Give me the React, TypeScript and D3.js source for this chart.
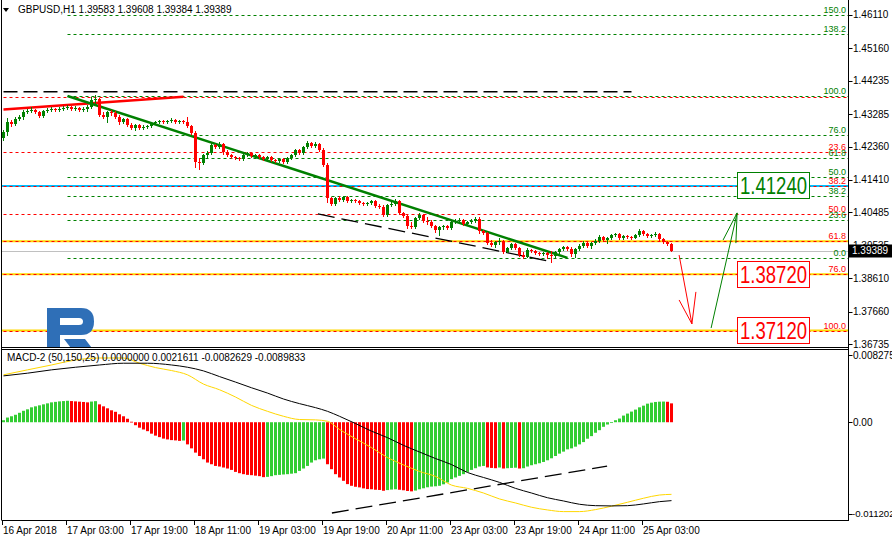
import React from 'react';
import * as d3 from 'd3';

const FONT = "'Liberation Sans', Arial, Helvetica, sans-serif";
const GREEN = '#008000';
const RED = '#ff0000';
const HIST_GREEN = '#32cd32';

// ---------- axis values ----------
const PRICE_MIN = 1.3665;
const PRICE_MAX = 1.4648;
const MACD_MIN = -0.011202;
const MACD_MAX = 0.008275;
const priceTicks = [1.4611, 1.4516, 1.44235, 1.43285, 1.4236, 1.4141, 1.40485, 1.39535, 1.3861, 1.3766, 1.36735];
const timeLabels = ['16 Apr 2018', '17 Apr 03:00', '17 Apr 19:00', '18 Apr 11:00', '19 Apr 03:00', '19 Apr 19:00', '20 Apr 11:00', '23 Apr 03:00', '23 Apr 19:00', '24 Apr 11:00', '25 Apr 03:00'];
const timeLabelBars = [0, 16, 32, 48, 64, 80, 96, 112, 128, 144, 160];

// ---------- GBPUSD H1 candles ----------
const opens = [1.4261,
  1.4278,1.4306,1.4300,1.4315,1.4320,1.4335,1.4338,1.4340,1.4335,1.4323,
  1.4338,1.4340,1.4343,1.4340,1.4343,1.4346,1.4349,1.4343,1.4346,1.4340,
  1.4343,1.4349,1.4369,1.4372,1.4326,1.4320,1.4335,1.4332,1.4320,1.4306,
  1.4315,1.4298,1.4289,1.4298,1.4289,1.4292,1.4295,1.4303,1.4306,1.4309,
  1.4306,1.4309,1.4312,1.4306,1.4309,1.4306,1.4295,1.4275,1.4192,1.4189,
  1.4212,1.4218,1.4241,1.4235,1.4243,1.4221,1.4212,1.4206,1.4204,1.4201,
  1.4212,1.4218,1.4209,1.4212,1.4206,1.4201,1.4206,1.4198,1.4195,1.4201,
  1.4192,1.4204,1.4212,1.4226,1.4218,1.4235,1.4246,1.4238,1.4243,1.4226,
  1.4184,1.4090,1.4072,1.4090,1.4084,1.4092,1.4081,1.4084,1.4081,1.4075,
  1.4072,1.4075,1.4081,1.4067,1.4064,1.4041,1.4070,1.4072,1.4081,1.4047,
  1.4038,1.4010,1.4007,1.4033,1.4041,1.4024,1.4021,1.4010,1.3998,1.4007,
  1.4010,1.4004,1.4021,1.4024,1.4027,1.4015,1.4021,1.4024,1.4030,1.3996,
  1.3990,1.3961,1.3956,1.3964,1.3967,1.3936,1.3947,1.3958,1.3947,1.3927,
  1.3921,1.3941,1.3939,1.3933,1.3930,1.3933,1.3927,1.3924,1.3936,1.3944,
  1.3950,1.3944,1.3930,1.3944,1.3953,1.3961,1.3953,1.3961,1.3967,1.3978,
  1.3970,1.3976,1.3984,1.3987,1.3976,1.3981,1.3978,1.3976,1.3984,1.3996,
  1.3987,1.3981,1.3984,1.3987,1.3973,1.3964,1.39583];
const closes = [
  1.4278,1.4306,1.4300,1.4315,1.4320,1.4335,1.4338,1.4340,1.4335,1.4323,
  1.4338,1.4340,1.4343,1.4340,1.4343,1.4346,1.4349,1.4343,1.4346,1.4340,
  1.4343,1.4349,1.4369,1.4372,1.4326,1.4320,1.4335,1.4332,1.4320,1.4306,
  1.4315,1.4298,1.4289,1.4298,1.4289,1.4292,1.4295,1.4303,1.4306,1.4309,
  1.4306,1.4309,1.4312,1.4306,1.4309,1.4306,1.4295,1.4275,1.4192,1.4189,
  1.4212,1.4218,1.4241,1.4235,1.4243,1.4221,1.4212,1.4206,1.4204,1.4201,
  1.4212,1.4218,1.4209,1.4212,1.4206,1.4201,1.4206,1.4198,1.4195,1.4201,
  1.4192,1.4204,1.4212,1.4226,1.4218,1.4235,1.4246,1.4238,1.4243,1.4226,
  1.4184,1.4090,1.4072,1.4090,1.4084,1.4092,1.4081,1.4084,1.4081,1.4075,
  1.4072,1.4075,1.4081,1.4067,1.4064,1.4041,1.4070,1.4072,1.4081,1.4047,
  1.4038,1.4010,1.4007,1.4033,1.4041,1.4024,1.4021,1.4010,1.3998,1.4007,
  1.4010,1.4004,1.4021,1.4024,1.4027,1.4015,1.4021,1.4024,1.4030,1.3996,
  1.3990,1.3961,1.3956,1.3964,1.3967,1.3936,1.3947,1.3958,1.3947,1.3927,
  1.3921,1.3941,1.3939,1.3933,1.3930,1.3933,1.3927,1.3924,1.3936,1.3944,
  1.3950,1.3944,1.3930,1.3944,1.3953,1.3961,1.3953,1.3961,1.3967,1.3978,
  1.3970,1.3976,1.3984,1.3987,1.3976,1.3981,1.3978,1.3976,1.3984,1.3996,
  1.3987,1.3981,1.3984,1.3987,1.3973,1.3964,1.3958,1.39389];
const highs = [
  1.4283,1.4318,1.4312,1.4320,1.4326,1.4340,1.4343,1.4349,1.4343,1.4338,
  1.4340,1.4346,1.4349,1.4346,1.4349,1.4352,1.4355,1.4352,1.4352,1.4349,
  1.4349,1.4355,1.4377,1.4383,1.4375,1.4335,1.4338,1.4340,1.4338,1.4326,
  1.4318,1.4318,1.4303,1.4300,1.4300,1.4298,1.4298,1.4306,1.4309,1.4312,
  1.4312,1.4312,1.4318,1.4315,1.4312,1.4312,1.4320,1.4298,1.4280,1.4204,
  1.4215,1.4223,1.4246,1.4243,1.4249,1.4246,1.4226,1.4215,1.4209,1.4206,
  1.4215,1.4221,1.4221,1.4215,1.4215,1.4209,1.4209,1.4209,1.4201,1.4204,
  1.4204,1.4206,1.4215,1.4229,1.4229,1.4238,1.4252,1.4249,1.4249,1.4246,
  1.4232,1.4189,1.4092,1.4092,1.4095,1.4095,1.4095,1.4087,1.4087,1.4084,
  1.4078,1.4078,1.4084,1.4084,1.4072,1.4070,1.4072,1.4078,1.4087,1.4084,
  1.4050,1.4041,1.4021,1.4035,1.4047,1.4044,1.4035,1.4027,1.4013,1.4010,
  1.4013,1.4013,1.4024,1.4030,1.4033,1.4030,1.4024,1.4030,1.4035,1.4035,
  1.3998,1.3993,1.3970,1.3967,1.3976,1.3970,1.3950,1.3961,1.3961,1.3950,
  1.3936,1.3947,1.3944,1.3941,1.3936,1.3936,1.3936,1.3939,1.3939,1.3947,
  1.3953,1.3953,1.3950,1.3947,1.3958,1.3967,1.3964,1.3964,1.3973,1.3984,
  1.3981,1.3978,1.3987,1.3990,1.3990,1.3984,1.3984,1.3981,1.3987,1.4001,
  1.3998,1.3990,1.3987,1.3993,1.3990,1.3976,1.3967,1.39608];
const lows = [
  1.4255,1.4269,1.4295,1.4298,1.4312,1.4315,1.4332,1.4335,1.4332,1.4320,
  1.4320,1.4335,1.4338,1.4338,1.4338,1.4340,1.4343,1.4340,1.4340,1.4338,
  1.4338,1.4338,1.4346,1.4360,1.4323,1.4318,1.4306,1.4326,1.4318,1.4300,
  1.4303,1.4295,1.4286,1.4283,1.4286,1.4286,1.4289,1.4292,1.4300,1.4303,
  1.4303,1.4303,1.4306,1.4303,1.4303,1.4303,1.4292,1.4272,1.4178,1.4172,
  1.4186,1.4204,1.4215,1.4232,1.4232,1.4215,1.4209,1.4204,1.4201,1.4198,
  1.4198,1.4209,1.4206,1.4206,1.4204,1.4198,1.4198,1.4195,1.4192,1.4192,
  1.4189,1.4189,1.4201,1.4209,1.4215,1.4215,1.4232,1.4235,1.4235,1.4223,
  1.4181,1.4078,1.4070,1.4070,1.4081,1.4081,1.4078,1.4078,1.4078,1.4072,
  1.4070,1.4070,1.4072,1.4064,1.4061,1.4038,1.4038,1.4067,1.4070,1.4044,
  1.4035,1.4004,1.4004,1.4004,1.4030,1.4021,1.4015,1.4007,1.3993,1.3984,
  1.4001,1.4001,1.4001,1.4018,1.4021,1.4013,1.4013,1.4018,1.4021,1.3990,
  1.3987,1.3958,1.3953,1.3950,1.3958,1.3933,1.3936,1.3944,1.3944,1.3924,
  1.3919,1.3921,1.3936,1.3930,1.3927,1.3927,1.3919,1.3907,1.3921,1.3933,
  1.3941,1.3941,1.3924,1.3921,1.3941,1.3950,1.3950,1.3947,1.3958,1.3964,
  1.3967,1.3961,1.3973,1.3981,1.3973,1.3973,1.3976,1.3973,1.3976,1.3981,
  1.3984,1.3978,1.3978,1.3981,1.3970,1.3961,1.3956,1.39384];

// ---------- MACD-2 (50,150,25) ----------
const histogram = [
  0.000228,0.000535,0.000683,0.000854,0.001081,0.001309,0.001479,0.001707,0.001821,0.001935,
  0.002048,0.002162,0.002276,0.002333,0.002390,0.002424,0.002458,0.002424,0.002390,0.002356,
  0.002322,0.002276,0.002367,0.002413,0.002048,0.001821,0.001593,0.001366,0.001195,0.000910,
  0.000683,0.000398,0.000057,-0.000341,-0.000626,-0.000831,-0.001024,-0.001309,-0.001536,-0.001707,
  -0.001878,-0.001969,-0.002048,-0.002083,-0.002139,-0.002094,-0.002538,-0.002993,-0.003482,-0.003869,
  -0.004245,-0.004620,-0.004814,-0.005007,-0.005075,-0.005189,-0.005303,-0.005462,-0.005690,-0.005838,
  -0.005952,-0.006031,-0.006066,-0.006122,-0.006179,-0.006293,-0.006259,-0.006179,-0.006066,-0.006031,
  -0.005986,-0.005952,-0.005895,-0.005838,-0.005576,-0.005303,-0.005007,-0.004620,-0.004359,-0.004245,
  -0.004165,-0.004814,-0.005383,-0.005952,-0.006327,-0.006714,-0.007090,-0.007283,-0.007397,-0.007465,
  -0.007579,-0.007659,-0.007682,-0.007738,-0.007761,-0.007852,-0.007773,-0.007716,-0.007682,-0.007738,
  -0.007795,-0.007875,-0.007920,-0.007829,-0.007682,-0.007568,-0.007454,-0.007374,-0.007340,-0.007283,
  -0.007113,-0.006908,-0.006521,-0.006327,-0.006145,-0.005952,-0.005690,-0.005462,-0.005269,-0.005075,
  -0.005007,-0.005178,-0.005235,-0.005269,-0.005189,-0.005303,-0.005269,-0.005235,-0.005212,-0.005303,
  -0.005269,-0.005075,-0.004928,-0.004814,-0.004700,-0.004552,-0.004359,-0.004131,-0.003869,-0.003596,
  -0.003368,-0.003107,-0.002993,-0.002799,-0.002538,-0.002276,-0.001889,-0.001593,-0.001206,-0.000910,
  -0.000523,-0.000262,-0.000091,0.000228,0.000421,0.000762,0.000990,0.001218,0.001445,0.001707,
  0.001900,0.002128,0.002242,0.002322,0.002356,0.002367,0.002344,0.0021611];
const macdBars = [0,6,12,18,24,30,34,38,42,46,50,54,58,62,66,70,74,78,81,84,88,92,96,100,104,108,112,116,120,124,128,132,136,140,144,148,152,156,160,164,167];
const macdLine = [0.00543,0.00600,0.00656,0.00713,0.00736,0.00736,0.00676,0.00626,0.00592,0.00543,
  0.00437,0.00372,0.00289,0.00193,0.00125,0.00068,0.00031,0.00027,0.00011,-0.00083,
  -0.00189,-0.00291,-0.00405,-0.00489,-0.00564,-0.00621,-0.00720,-0.00758,-0.00811,-0.00879,
  -0.00925,-0.00974,-0.01005,-0.01024,-0.01024,-0.01001,-0.00962,-0.00917,-0.00871,-0.00834,-0.0082629];
const signalBars = [0,6,12,18,24,30,36,42,46,50,54,58,62,66,70,74,78,81,84,88,92,96,100,104,108,112,116,120,124,128,132,136,140,144,148,152,156,160,164,167];
const signalLine = [0.00531,0.00562,0.00600,0.00630,0.00656,0.00676,0.00676,0.00656,0.00630,0.00588,
  0.00523,0.00460,0.00395,0.00334,0.00266,0.00213,0.00167,0.00125,0.00068,-0.00015,
  -0.00102,-0.00177,-0.00265,-0.00341,-0.00416,-0.00485,-0.00576,-0.00633,-0.00689,-0.00758,
  -0.00811,-0.00865,-0.00902,-0.00940,-0.00956,-0.00959,-0.00956,-0.00936,-0.00910,-0.0089833];

// ---------- analysis objects (bar index, value) ----------
const fibLevels = [0, 23.6, 38.2, 50, 61.8, 76, 100];
const fibExtLevels = [0, 23.6, 38.2, 50, 61.8, 76, 100, 138.2, 150];
const redFib = { startBar: 0, p0: 1.4377, p100: 1.3712 };
const greenFib = { startBar: 16, p0: 1.3918, p100: 1.4380 };
const levelLines = [1.3966, 1.3872, 1.3712];
const blueLevel = 1.4124;
const targets = [1.4124, 1.3872, 1.3712];
const targetUp = [true, false, false];
const redTrend = [[0, 1.4342], [45, 1.4378]];
const greenTrend = [[16, 1.4380], [141, 1.3919]];
const topDashed = [[0, 1.4392], [157, 1.4392]];
const lowDashed = [[78.6, 1.4044], [137.4, 1.3907]];
const macdDashed = [[82.1, -0.0104], [150.9, -0.00502]];
const redArrow = [[168.9, 1.3927], [172.1, 1.3731]];
const redArrowBarbs = [[168.9, 1.3799], [173.1, 1.3822]];
const greenArrow = [[176.9, 1.3719], [183.4, 1.4047]];
const greenArrowBarbs = [[179.9, 1.3970], [183.1, 1.3961]];
const macdAxisLabels = ['0.008275', '0.00', '-0.011202'];

export default function App() {
  const x = d3.scaleLinear().domain([0, 1]).range([3.5, 7.5]);
  const y = d3.scaleLinear().domain([PRICE_MIN, PRICE_MAX]).range([347, 2]);
  const ym = d3.scaleLinear().domain([MACD_MIN, MACD_MAX]).range([520, 350]);
  const R = 848.5;
  const L = 1.5;
  const n = closes.length;
  const lastPrice = closes[n - 1];

  const seg = (pts: number[][], sc: any) => ({ x1: x(pts[0][0]), y1: sc(pts[0][1]), x2: x(pts[1][0]), y2: sc(pts[1][1]) });

  const macdPath = d3.line<number>().x((_, k) => x(macdBars[k])).y(d => ym(d)).curve(d3.curveMonotoneX)(macdLine) || '';
  const sigPath = d3.line<number>().x((_, k) => x(signalBars[k])).y(d => ym(d)).curve(d3.curveMonotoneX)(signalLine) || '';

  const fibPrice = (f: any, lv: number) => f.p0 + (f.p100 - f.p0) * lv / 100;

  const header = `${opens[n - 1].toFixed(5)} ${highs[n - 1].toFixed(5)} ${lows[n - 1].toFixed(5)} ${lastPrice.toFixed(5)}`;
  const macdHeader = `MACD-2 (50,150,25) ${(0).toFixed(7)} ${histogram[n - 1].toFixed(7)} ${macdLine[macdLine.length - 1].toFixed(7)} ${signalLine[signalLine.length - 1].toFixed(7)}`;

  return (
    <svg width={892} height={542} style={{ position: 'absolute', left: 0, top: 0, background: '#fff' }} fontFamily={FONT}>
      <defs>
        <clipPath id="mainClip"><rect x={2} y={0} width={846} height={347} /></clipPath>
        <clipPath id="macdClip"><rect x={2} y={350} width={846} height={170} /></clipPath>
      </defs>
      <rect x={0} y={0} width={892} height={542} fill="#fff" />

      {/* ---------- main panel ---------- */}
      <g clipPath="url(#mainClip)">
        {levelLines.map((p, k) => (
          <line key={'yl' + k} x1={0} x2={R} y1={y(p)} y2={y(p)} stroke="#ffd700" strokeWidth={2} />
        ))}
        <line x1={0} x2={R} y1={y(blueLevel)} y2={y(blueLevel)} stroke="#00bfff" strokeWidth={2} />
        <line x1={0} x2={R} y1={Math.round(y(lastPrice)) + 0.5} y2={Math.round(y(lastPrice)) + 0.5} stroke="#c0c0c0" strokeWidth={1} />

        {fibLevels.map((lv, k) => {
          const yy = Math.round(y(fibPrice(redFib, lv))) + 0.5;
          return <line key={'rf' + k} x1={x(redFib.startBar)} x2={R} y1={yy} y2={yy} stroke={RED} strokeWidth={1} strokeDasharray="3,3" />;
        })}
        {fibExtLevels.map((lv, k) => {
          const yy = Math.round(y(fibPrice(greenFib, lv))) + 0.5;
          return <line key={'gf' + k} x1={x(greenFib.startBar)} x2={R} y1={yy} y2={yy} stroke={GREEN} strokeWidth={1} strokeDasharray="3,3" />;
        })}

        <line {...seg(topDashed, y)} stroke="#000" strokeWidth={1.5} strokeDasharray="14,6" />
        <line {...seg(lowDashed, y)} stroke="#000" strokeWidth={1.3} strokeDasharray="17,7" />
        <line {...seg(redTrend, y)} stroke={RED} strokeWidth={2.5} />
        <line {...seg(greenTrend, y)} stroke={GREEN} strokeWidth={2.5} />

        {closes.map((c, i) => {
          const o = opens[i];
          const up = c >= o;
          const col = up ? GREEN : RED;
          const cx = x(i);
          const yt = Math.round(y(Math.max(o, c)));
          const yb = Math.round(y(Math.min(o, c)));
          return (
            <g key={'c' + i}>
              <line x1={cx} x2={cx} y1={Math.round(y(highs[i]))} y2={Math.round(y(lows[i])) + 1} stroke={col} strokeWidth={1} />
              <rect x={cx - 1.5} y={yt} width={3} height={Math.max(1, yb - yt)} fill={col} />
            </g>
          );
        })}

        <line {...seg(redArrow, y)} stroke={RED} strokeWidth={1} />
        {redArrowBarbs.map((b, k) => (
          <line key={'rb' + k} x1={x(b[0])} y1={y(b[1])} x2={x(redArrow[1][0])} y2={y(redArrow[1][1])} stroke={RED} strokeWidth={1} />
        ))}
        <line {...seg(greenArrow, y)} stroke={GREEN} strokeWidth={1} />
        {greenArrowBarbs.map((b, k) => (
          <line key={'gb' + k} x1={x(b[0])} y1={y(b[1])} x2={x(greenArrow[1][0])} y2={y(greenArrow[1][1])} stroke={GREEN} strokeWidth={1} />
        ))}

        {targets.map((p, k) => {
          const col = targetUp[k] ? GREEN : RED;
          const cy = y(p);
          return (
            <g key={'t' + k}>
              <rect x={737.5} y={Math.round(cy - 13.5) + 0.5} width={72} height={26} fill="#fff" stroke={col} strokeWidth={1} />
              <text x={740} y={cy + 8.5} fontSize={23} fill={col} textLength={67} lengthAdjust="spacingAndGlyphs">{p.toFixed(5)}</text>
            </g>
          );
        })}

        {fibLevels.filter(lv => lv !== 0).map((lv, k) => (
          <text key={'rfl' + k} x={846} y={Math.round(y(fibPrice(redFib, lv))) - 2} fontSize={9} fill={RED} textAnchor="end">{lv.toFixed(1)}</text>
        ))}
        {fibExtLevels.map((lv, k) => (
          <text key={'gfl' + k} x={846} y={Math.round(y(fibPrice(greenFib, lv))) - 2} fontSize={9} fill={GREEN} textAnchor="end">{lv.toFixed(1)}</text>
        ))}

        <g fill="#2f6fb7">
          <path fillRule="evenodd" d="M47 308 H81 Q94 308 94 321.5 Q94 335 81 335 H60 V352 H47 Z M60 318 H79 Q83 318 83 321.5 Q83 325 79 325 H60 Z" />
          <path d="M64 339 H85 L95 352 H74 Z" />
        </g>
      </g>

      <path d="M3 8 L9 8 L6 12 Z" fill="#000" />
      <text x={18} y={13} fontSize={10} fill="#000">{'GBPUSD,H1  ' + header}</text>

      {/* ---------- MACD panel ---------- */}
      <g clipPath="url(#macdClip)">
        {histogram.map((v, i) => {
          const prev = i > 0 ? histogram[i - 1] : v;
          const col = v >= prev ? HIST_GREEN : RED;
          const y0 = ym(0);
          const y1 = ym(v);
          return <rect key={'h' + i} x={x(i) - 1.5} y={Math.min(y0, y1)} width={3} height={Math.max(0.8, Math.abs(y1 - y0))} fill={col} />;
        })}
        <path d={macdPath} fill="none" stroke="#ffd700" strokeWidth={1} />
        <path d={sigPath} fill="none" stroke="#000" strokeWidth={1} />
        <line {...seg(macdDashed, ym)} stroke="#000" strokeWidth={1.3} strokeDasharray="17,7" />
      </g>
      <text x={7} y={361} fontSize={10} fill="#000">{macdHeader}</text>

      {/* ---------- frames ---------- */}
      <line x1={L} x2={L} y1={0} y2={520} stroke="#000" />
      <line x1={R} x2={R} y1={0} y2={521} stroke="#000" />
      <line x1={L} x2={R} y1={347.5} y2={347.5} stroke="#000" />
      <line x1={L} x2={R} y1={349.5} y2={349.5} stroke="#000" />
      <line x1={L} x2={R} y1={520.5} y2={520.5} stroke="#000" />

      {priceTicks.map((p, k) => (
        <g key={'pt' + k}>
          <line x1={R} x2={R + 4} y1={Math.round(y(p)) + 0.5} y2={Math.round(y(p)) + 0.5} stroke="#000" />
          <text x={853} y={y(p) + 3.5} fontSize={10} fill="#000">{p.toFixed(5)}</text>
        </g>
      ))}
      <rect x={849} y={Math.round(y(lastPrice)) - 6.5} width={43} height={13} fill="#000" />
      <text x={852} y={y(lastPrice) + 3.5} fontSize={10} fill="#fff">{lastPrice.toFixed(5)}</text>

      {[MACD_MAX, 0, MACD_MIN].map((v, k) => {
        const ty = Math.round(ym(v)) + (k === 0 ? 5.5 : k === 2 ? -5.5 : 0.5);
        return <line key={'mt' + k} x1={R} x2={R + 4} y1={ty} y2={ty} stroke="#000" />;
      })}
      <text x={853} y={ym(MACD_MAX) + 9} fontSize={10} fill="#000">{macdAxisLabels[0]}</text>
      <text x={853} y={ym(0) + 3.5} fontSize={10} fill="#000">{macdAxisLabels[1]}</text>
      <text x={852} y={ym(MACD_MIN) - 3} fontSize={9.6} fill="#000">{macdAxisLabels[2]}</text>

      {timeLabelBars.map((b, k) => (
        <g key={'tl' + k}>
          <line x1={x(b) - 1} x2={x(b) - 1} y1={520} y2={525} stroke="#000" />
          <text x={x(b) - 0.5} y={534} fontSize={10} fill="#000">{timeLabels[k]}</text>
        </g>
      ))}
    </svg>
  );
}
